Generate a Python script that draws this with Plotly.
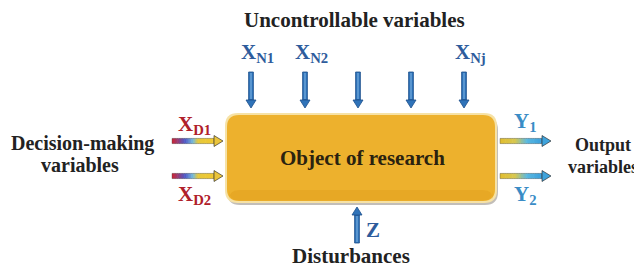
import plotly.graph_objects as go

# ---- content ----
title_top = "Uncontrollable variables"
title_left = ["Decision-making", "variables"]
title_right = ["Output", "variables"]
title_bottom = "Disturbances"
box_label = "Object of research"
top_labels = ["X<sub>N1</sub>", "X<sub>N2</sub>", "", "", "X<sub>Nj</sub>"]
left_labels = ["X<sub>D1</sub>", "X<sub>D2</sub>"]
right_labels = ["Y<sub>1</sub>", "Y<sub>2</sub>"]
bottom_label = "Z"

# ---- layout geometry ----
W, H = 642, 268
OFF = 8  # page body margin
BOX = (226, 114, 496, 202)
top_x = [251, 305, 358, 411, 464]
side_y = [141, 176]
FONT = "Liberation Serif"
DARK = "#222222"
BLUE_T = "#2E5C9C"
RED_T = "#B0202A"
LBLUE_T = "#3A8CC6"
TS = 21

shapes = []
annotations = []


def rrect(x0, y0, x1, y1, r):
    return (f"M{x0+r},{y0} L{x1-r},{y0} Q{x1},{y0} {x1},{y0+r} L{x1},{y1-r} "
            f"Q{x1},{y1} {x1-r},{y1} L{x0+r},{y1} Q{x0},{y1} {x0},{y1-r} "
            f"L{x0},{y0+r} Q{x0},{y0} {x0+r},{y0} Z")


def lerp(c1, c2, t):
    return "rgb(%d,%d,%d)" % tuple(int(a + (b - a) * t) for a, b in zip(c1, c2))


def grad_color(stops, t):
    for i in range(len(stops) - 1):
        t0, c0 = stops[i]
        t1, c1 = stops[i + 1]
        if t0 <= t <= t1:
            return lerp(c0, c1, (t - t0) / (t1 - t0) if t1 > t0 else 0)
    return lerp(stops[-1][1], stops[-1][1], 0)


def h_arrow(x0, x1, y, stops, head_col, hw=2.6, head_len=9, head_w=5.5):
    xs = x1 - head_len
    n = 24
    for i in range(n):
        a = x0 + (xs - x0) * i / n
        b = x0 + (xs - x0) * (i + 1) / n + 0.6
        shapes.append(dict(type="rect", xref="x", yref="y", x0=a, x1=b, y0=y - hw, y1=y + hw,
                           fillcolor=grad_color(stops, i / (n - 1)), line=dict(width=0)))
    shapes.append(dict(type="rect", xref="x", yref="y", x0=x0, x1=xs, y0=y - hw, y1=y + hw,
                       fillcolor="rgba(0,0,0,0)", line=dict(width=0.6, color="rgba(60,60,60,0.6)")))
    shapes.append(dict(type="path", xref="x", yref="y",
                       path=f"M{xs},{y-head_w} L{x1},{y} L{xs},{y+head_w} Z",
                       fillcolor=head_col, line=dict(width=0.8, color="rgba(40,40,40,0.8)")))


def v_arrow(x, y_tail, y_tip, col="#2F73B9", edge="#1D4F8C", hw=2.4, head_len=8, head_w=5):
    d = 1 if y_tip > y_tail else -1
    ys = y_tip - d * head_len
    shapes.append(dict(type="rect", xref="x", yref="y", x0=x - hw, x1=x + hw,
                       y0=min(y_tail, ys), y1=max(y_tail, ys),
                       fillcolor=col, line=dict(width=0.8, color=edge)))
    shapes.append(dict(type="rect", xref="x", yref="y", x0=x - 0.6, x1=x + 0.6,
                       y0=min(y_tail, ys) + 1, y1=max(y_tail, ys) - 1,
                       fillcolor="rgba(150,200,240,0.7)", line=dict(width=0)))
    shapes.append(dict(type="path", xref="x", yref="y",
                       path=f"M{x-head_w},{ys} L{x},{y_tip} L{x+head_w},{ys} Z",
                       fillcolor=col, line=dict(width=0.8, color=edge)))


def text(x, y, s, size, color, xanchor="center"):
    annotations.append(dict(x=x, y=y, xref="x", yref="y", text=s, showarrow=False,
                            xanchor=xanchor, yanchor="middle",
                            font=dict(family=FONT, size=size, color=color, weight="bold")))


# ---- box ----
x0, y0, x1, y1 = BOX
shapes.append(dict(type="path", xref="x", yref="y", path=rrect(x0 + 1, y0 + 3, x1 + 2, y1 + 3, 13),
                   fillcolor="rgba(120,110,100,0.45)", line=dict(width=0)))
shapes.append(dict(type="path", xref="x", yref="y", path=rrect(x0 - 1, y0 - 1, x1 + 1, y1 + 1, 13),
                   fillcolor="#F6E2A6", line=dict(width=0)))
shapes.append(dict(type="path", xref="x", yref="y", path=rrect(x0 + 1, y0 + 1, x1 - 1, y1 - 1, 12),
                   fillcolor="#EDB12D", line=dict(width=0)))
shapes.append(dict(type="path", xref="x", yref="y", path=rrect(x0 + 3, y1 - 12, x1 - 3, y1 - 1.5, 10),
                   fillcolor="rgba(220,150,20,0.3)", line=dict(width=0)))
text((x0 + x1) / 2 + 1, 158, box_label, TS, "#2A2210")

# ---- top arrows ----
for x, lab in zip(top_x, top_labels):
    v_arrow(x, 72, 108)
    if lab:
        text(x + 6, 53, lab, TS, BLUE_T)
text(354, 20, title_top, TS, DARK)

# ---- left arrows ----
left_stops = [(0, (200, 40, 60)), (0.3, (80, 90, 200)), (0.5, (120, 190, 220)),
              (0.62, (230, 200, 60)), (1, (240, 200, 50))]
for y in side_y:
    h_arrow(172, 223, y, left_stops, "#EAC43C")
text(194, 125, left_labels[0], TS, RED_T)
text(194, 195, left_labels[1], TS, RED_T)
text(82, 143, title_left[0], 20, DARK)
text(80, 165, title_left[1], 20, DARK)

# ---- right arrows ----
right_stops = [(0, (225, 190, 50)), (0.35, (215, 200, 80)), (0.65, (90, 185, 225)), (1, (60, 160, 220))]
for y in side_y:
    h_arrow(500, 551, y, right_stops, "#3FA3DC")
text(525, 122, right_labels[0], TS, LBLUE_T)
text(525, 195, right_labels[1], TS, LBLUE_T)
text(603, 145, title_right[0], 18, DARK)
text(603, 167, title_right[1], 18, DARK)

# ---- bottom ----
v_arrow(357, 243, 207)
text(373, 230, bottom_label, TS, BLUE_T)
text(351, 256, title_bottom, TS, DARK)

fig = go.Figure()
fig.update_layout(
    width=W - OFF, height=H - OFF, margin=dict(l=0, r=0, t=0, b=0),
    paper_bgcolor="white", plot_bgcolor="white",
    xaxis=dict(range=[OFF, W], visible=False, fixedrange=True),
    yaxis=dict(range=[H, OFF], visible=False, fixedrange=True),
    shapes=shapes, annotations=annotations, showlegend=False,
)
fig.write_html("out.html")
